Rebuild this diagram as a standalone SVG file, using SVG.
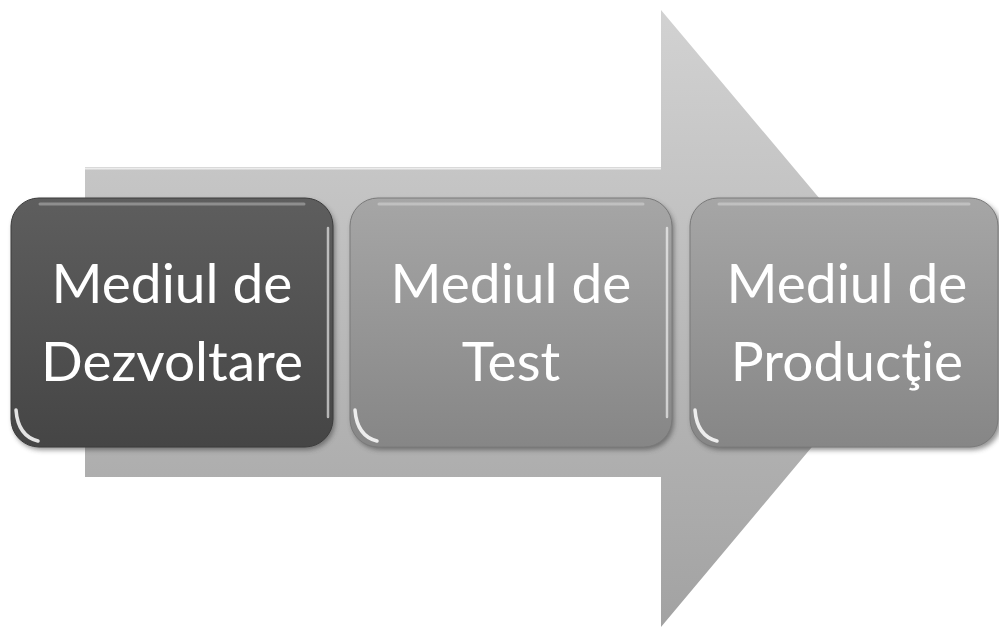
<svg xmlns="http://www.w3.org/2000/svg" width="999" height="629" viewBox="0 0 999 629">
<defs>
<linearGradient id="gArrow" x1="0" y1="0" x2="0" y2="1">
<stop offset="0" stop-color="#d2d2d2"/>
<stop offset="1" stop-color="#a2a2a2"/>
</linearGradient>
<linearGradient id="gDark" x1="0" y1="0" x2="0" y2="1">
<stop offset="0" stop-color="#5e5e5e"/>
<stop offset="1" stop-color="#454545"/>
</linearGradient>
<linearGradient id="gMid" x1="0" y1="0" x2="0" y2="1">
<stop offset="0" stop-color="#a6a6a6"/>
<stop offset="1" stop-color="#868686"/>
</linearGradient>
<filter id="shadow" x="-10%" y="-10%" width="120%" height="120%">
<feGaussianBlur stdDeviation="2.5"/>
</filter>
</defs>
<style>
.shadow{fill:#3a3a3a;opacity:0.55;filter:url(#shadow)}
.hl{fill:none;stroke:#ffffff;stroke-linecap:round}
.top{stroke-width:3;opacity:0.3}
.side{stroke-width:2.5;opacity:0.6}
.arc{stroke-width:3.5;opacity:0.85}
.lbl{font-family:Lato,"Open Sans",sans-serif;font-size:55px;fill:#ffffff;text-anchor:middle}
</style>
<rect width="999" height="629" fill="#ffffff"/>
<g id="arrow">
<polygon points="85,167 661,167 661,10 920,318 661,627 661,477 85,477" fill="url(#gArrow)"/>
<path d="M85,168.5 H661" stroke="#ececec" stroke-width="2" fill="none"/>
</g>
<g id="node1">
<rect class="shadow" x="13" y="201" width="322" height="249" rx="28"/>
<rect x="11" y="198" width="322" height="249" rx="28" fill="url(#gDark)" stroke="#3c3c3c" stroke-width="1"/>
<path class="hl top" d="M40,204 H304"/>
<path class="hl side" d="M328,228 V417"/>
<path class="hl arc" d="M16,410 Q18,436 38,441"/>
<text class="lbl" x="172" y="303">Mediul de</text>
<text class="lbl" x="172" y="381">Dezvoltare</text>
</g>
<g id="node2">
<rect class="shadow" x="352" y="201" width="322" height="249" rx="28"/>
<rect x="350" y="198" width="322" height="249" rx="28" fill="url(#gMid)" stroke="#7a7a7a" stroke-width="1"/>
<path class="hl top" d="M379,204 H643"/>
<path class="hl side" d="M667,228 V417"/>
<path class="hl arc" d="M355,410 Q357,436 377,441"/>
<text class="lbl" x="511" y="303">Mediul de</text>
<text class="lbl" x="511" y="381">Test</text>
</g>
<g id="node3">
<rect class="shadow" x="692" y="201" width="309" height="249" rx="28"/>
<rect x="690" y="198" width="308" height="249" rx="28" fill="url(#gMid)" stroke="#7a7a7a" stroke-width="1"/>
<path class="hl top" d="M719,204 H969"/>
<path class="hl arc" d="M695,410 Q697,436 717,441"/>
<text class="lbl" x="847" y="303">Mediul de</text>
<text class="lbl" x="847" y="381">Producţie</text>
</g>
</svg>
